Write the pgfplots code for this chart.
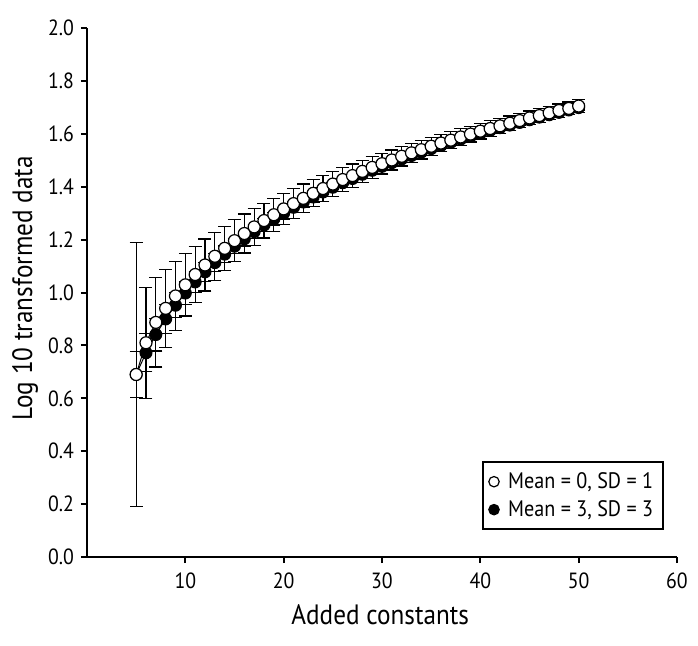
\documentclass[border=0pt]{standalone}
\usepackage{fontspec}
\setmainfont{PT Sans}[FakeStretch=0.9]
\usepackage{pgfplots}
\usepackage{pgfplotstable}
\pgfplotsset{compat=1.18}

\pgfplotstableread{
x y e
5 0.690 0.500
6 0.810 0.210
7 0.887 0.169
8 0.940 0.148
9 0.987 0.131
10 1.029 0.118
11 1.068 0.107
12 1.104 0.098
13 1.137 0.091
14 1.167 0.084
15 1.196 0.079
16 1.223 0.074
17 1.248 0.069
18 1.272 0.066
19 1.294 0.062
20 1.316 0.059
21 1.336 0.056
22 1.356 0.054
23 1.375 0.051
24 1.393 0.049
25 1.410 0.047
26 1.427 0.045
27 1.442 0.044
28 1.458 0.042
29 1.473 0.041
30 1.487 0.039
31 1.501 0.038
32 1.515 0.037
33 1.528 0.036
34 1.540 0.035
35 1.553 0.034
36 1.565 0.033
37 1.576 0.032
38 1.588 0.031
39 1.599 0.030
40 1.610 0.030
41 1.620 0.029
42 1.630 0.028
43 1.640 0.027
44 1.650 0.027
45 1.660 0.026
46 1.669 0.026
47 1.679 0.025
48 1.688 0.025
49 1.696 0.024
50 1.705 0.024
}\whitedata

\pgfplotstableread{
x y e
5 0.690 0.087
6 0.772 0.072
7 0.841 0.062
8 0.900 0.054
9 0.952 0.048
10 0.998 0.043
11 1.040 0.039
12 1.078 0.036
13 1.113 0.033
14 1.145 0.031
15 1.175 0.029
16 1.203 0.027
17 1.230 0.026
18 1.255 0.024
19 1.278 0.023
20 1.300 0.022
21 1.322 0.021
22 1.342 0.020
23 1.361 0.019
24 1.380 0.018
25 1.398 0.017
26 1.415 0.017
27 1.431 0.016
28 1.447 0.016
29 1.462 0.015
30 1.477 0.014
31 1.491 0.014
32 1.505 0.014
33 1.518 0.013
34 1.531 0.013
35 1.544 0.012
36 1.556 0.012
37 1.568 0.012
38 1.580 0.011
39 1.591 0.011
40 1.602 0.011
41 1.613 0.011
42 1.623 0.010
43 1.633 0.010
44 1.643 0.010
45 1.653 0.010
46 1.663 0.009
47 1.672 0.009
48 1.681 0.009
49 1.690 0.009
50 1.699 0.009
}\blackdata

\begin{document}
\begin{tikzpicture}
\useasboundingbox (-43.5pt,-44pt) rectangle (305.5pt,278.5pt);
\begin{axis}[
  scale only axis, width=295pt, height=264.5pt,
  xmin=0, xmax=60, ymin=0, ymax=2,
  axis x line=bottom, axis y line=left,
  axis line style={-, line width=1pt, black},
  xtick={10,20,30,40,50,60},
  ytick={0,0.2,0.4,0.6,0.8,1.0,1.2,1.4,1.6,1.8,2.0},
  yticklabel style={/pgf/number format/.cd, fixed, fixed zerofill, precision=1},
  tick align=outside, major tick length=3pt,
  tick style={line width=1pt, black},
  /pgf/number format/assume math mode=true,
  tick label style={font=\fontsize{11}{13}\selectfont, black},
  xticklabel style={yshift=-1.5pt},
  xlabel={Added constants}, ylabel={Log 10 transformed data},
  xlabel style={at={(axis description cs:0.497,-0.1096)}, anchor=center, font=\fontsize{14}{16}\selectfont},
  ylabel style={at={(axis description cs:-0.105,0.508)}, anchor=center, font=\fontsize{14}{16}\selectfont},
  legend style={at={(rel axis cs:0.978,0.051)}, anchor=south east, draw=black, line width=0.9pt,
    font=\fontsize{11.2}{13}\selectfont, inner xsep=3pt, inner ysep=3pt, row sep=0.5pt,
    legend cell align=left,
    /tikz/every odd column/.append style={column sep=2.5pt}},
  legend image code/.code={\draw[#1, line width=0.6pt] plot coordinates {(0.1cm,0cm)};},
]
\addplot[forget plot, black, line width=0.5pt, mark=*, mark size=3pt, mark options={fill=black, draw=black, line width=0.5pt},
  error bars/.cd, y dir=both, y explicit,
  error bar style={line width=0.6pt, black},
  error mark options={rotate=90, mark size=3.25pt, line width=0.6pt, black}]
  table[x=x, y=y, y error=e] {\blackdata};
\addplot[forget plot, black, line width=0.5pt, mark=*, mark size=3pt, mark options={fill=white, draw=black, line width=0.6pt},
  error bars/.cd, y dir=both, y explicit,
  error bar style={line width=0.6pt, black},
  error mark options={rotate=90, mark size=3.25pt, line width=0.6pt, black}]
  table[x=x, y=y, y error=e] {\whitedata};
\addlegendimage{only marks, mark=*, mark size=2.6pt, mark options={fill=white, draw=black, line width=0.6pt}}
\addlegendentry{Mean = 0, SD = 1}
\addlegendimage{only marks, mark=*, mark size=2.6pt, mark options={fill=black, draw=black}}
\addlegendentry{Mean = 3, SD = 3}
\end{axis}
\end{tikzpicture}
\end{document}
